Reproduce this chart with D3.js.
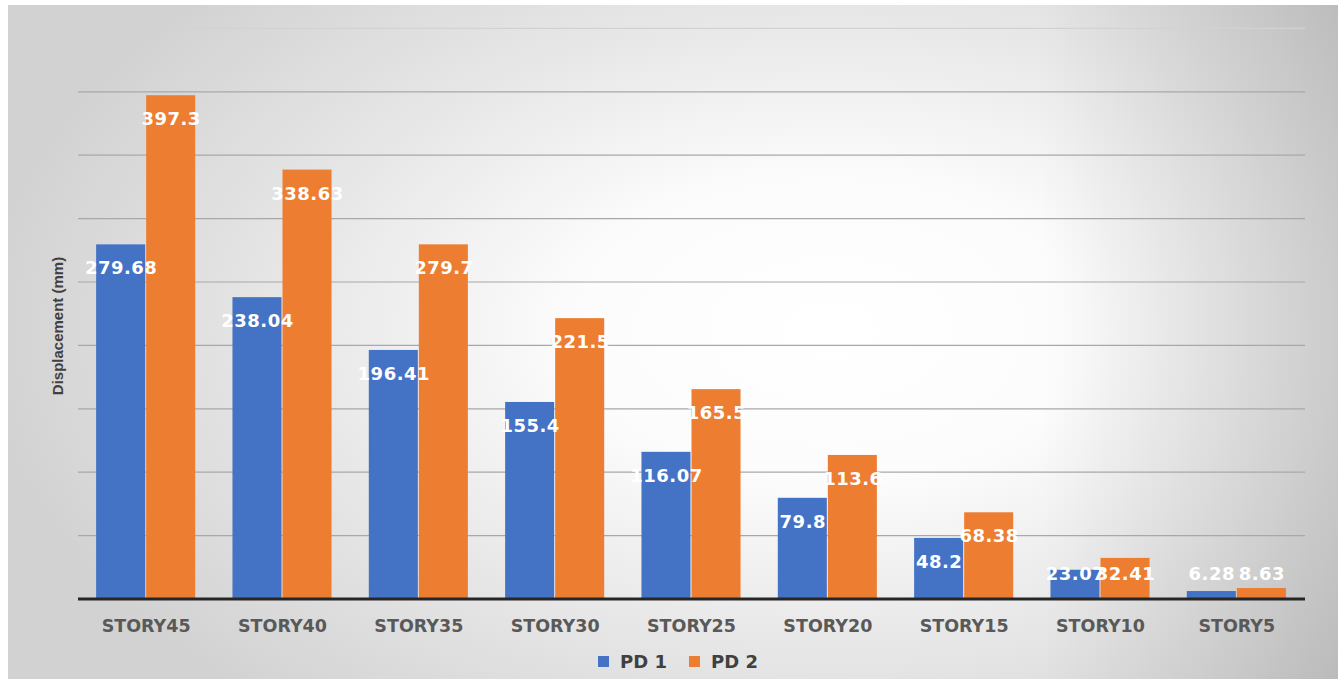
<!DOCTYPE html>
<html><head><meta charset="utf-8">
<script src="https://cdn.jsdelivr.net/npm/d3@7"></script>
<style>html,body{margin:0;padding:0;background:#fff;}svg{display:block;}</style>
</head><body>
<svg id="c" width="1338" height="679"></svg>
<script>
const categories = ["STORY45","STORY40","STORY35","STORY30","STORY25","STORY20","STORY15","STORY10","STORY5"];
const pd1 = [279.68, 238.04, 196.41, 155.4, 116.07, 79.8, 48.2, 23.07, 6.28];
const pd2 = [397.3, 338.63, 279.7, 221.5, 165.5, 113.6, 68.38, 32.41, 8.63];
const seriesNames = ["PD 1", "PD 2"];
const yTicks = [0,50,100,150,200,250,300,350,400,450];
const yTitle = "Displacement (mm)";

const colors = ["#4472C4", "#ED7D31"];
const W = 1338, H = 679;
const svg = d3.select("#c");
const defs = svg.append("defs");
const rg = defs.append("radialGradient").attr("id","bg")
  .attr("gradientUnits","userSpaceOnUse")
  .attr("cx",0).attr("cy",0).attr("r",1)
  .attr("gradientTransform","translate(830,330) scale(850,500)");
rg.append("stop").attr("offset","0%").attr("stop-color","#ffffff");
rg.append("stop").attr("offset","30%").attr("stop-color","#fcfcfc");
rg.append("stop").attr("offset","65%").attr("stop-color","#e6e6e6");
rg.append("stop").attr("offset","100%").attr("stop-color","#d2d2d2");
const lgR = defs.append("linearGradient").attr("id","shade")
  .attr("gradientUnits","userSpaceOnUse").attr("x1",1040).attr("x2",1338).attr("y1",0).attr("y2",0);
lgR.append("stop").attr("offset","0%").attr("stop-color","#000").attr("stop-opacity",0);
lgR.append("stop").attr("offset","100%").attr("stop-color","#000").attr("stop-opacity",0.13);

svg.append("rect").attr("width",W).attr("height",H).attr("fill","#fff");
svg.append("rect").attr("x",8).attr("y",5).attr("width",W-8).attr("height",H-5).attr("fill","url(#bg)");
svg.append("rect").attr("x",8).attr("y",5).attr("width",W-8).attr("height",H-5).attr("fill","url(#shade)");

const left = 78, right = 1305, base = 599;
const x = d3.scaleBand().domain(categories).range([left, right]).paddingInner(0.266).paddingOuter(0.133);
const xs = d3.scaleBand().domain(seriesNames).range([0, x.bandwidth()]);
const y = d3.scaleLinear().domain([0,450]).range([base, 28.4]);

// gridlines
svg.append("g").selectAll("line").data(yTicks.filter(t=>t>0)).join("line")
  .attr("x1",left).attr("x2",right)
  .attr("y1",d=>y(d)).attr("y2",d=>y(d))
  .attr("stroke",d=>d===450?"#d2d2d2":"#a8a8a8").attr("stroke-width",1.2);

const series = [pd1, pd2];
const g = svg.append("g");
series.forEach((vals, si) => {
  g.selectAll(null).data(vals).join("rect")
    .attr("x",(d,i)=>x(categories[i]) + xs(seriesNames[si]))
    .attr("y",d=>y(d))
    .attr("width",xs.bandwidth()-1)
    .attr("height",d=>base - y(d))
    .attr("fill",colors[si]);
});

// baseline axis
svg.append("line").attr("x1",left).attr("x2",right).attr("y1",base).attr("y2",base)
  .attr("stroke","#262626").attr("stroke-width",3);

// data labels
series.forEach((vals, si) => {
  g.selectAll(null).data(vals).join("text")
    .attr("x",(d,i)=>x(categories[i]) + xs(seriesNames[si]) + xs.bandwidth()/2)
    .attr("y",d=>Math.min(y(d)+24, 574) + 6)
    .attr("text-anchor","middle")
    .attr("font-family","DejaVu Sans").attr("font-weight","bold").attr("font-size",18)
    .attr("letter-spacing",0.5)
    .attr("fill","#ffffff")
    .text(d=>d);
});

// x axis labels
svg.append("g").selectAll("text").data(categories).join("text")
  .attr("x",d=>x(d)+x.bandwidth()/2).attr("y",632)
  .attr("text-anchor","middle")
  .attr("font-family","DejaVu Sans").attr("font-weight","bold").attr("font-size",17.5)
  .attr("fill","#595959")
  .text(d=>d);

// y title
svg.append("text").attr("transform","translate(63,326) rotate(-90)")
  .attr("text-anchor","middle")
  .attr("font-family","Liberation Sans").attr("font-weight","bold").attr("font-size",15)
  .attr("fill","#404040").text(yTitle);

// legend
const lg = svg.append("g");
const legX = [598, 689];
seriesNames.forEach((n,i)=>{
  lg.append("rect").attr("x",legX[i]).attr("y",656).attr("width",11).attr("height",11).attr("fill",colors[i]);
  lg.append("text").attr("x",legX[i]+22).attr("y",668)
    .attr("font-family","DejaVu Sans").attr("font-weight","bold").attr("font-size",18)
    .attr("fill","#404040").text(n);
});
</script>
</body></html>
